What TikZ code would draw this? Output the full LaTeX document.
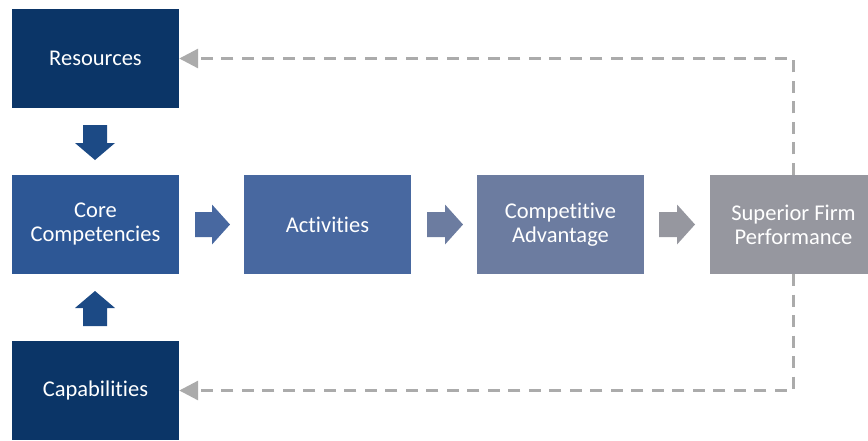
\documentclass[tikz,border=0pt]{standalone}
\usepackage{fontspec}
\setmainfont{Carlito}[Ligatures={NoCommon}]
\usetikzlibrary{arrows.meta}
\definecolor{navy}{HTML}{0B3567}
\definecolor{barrow}{HTML}{1C4A85}
\definecolor{corec}{HTML}{2D5795}
\definecolor{actc}{HTML}{4868A0}
\definecolor{compc}{HTML}{6C7CA0}
\definecolor{supc}{HTML}{96979F}
\definecolor{dashc}{HTML}{ABABAB}
\tikzset{
  box/.style={rectangle, minimum width=167pt, minimum height=99pt, inner sep=0pt,
    text=white, align=center, font=\fontsize{22.5}{24}\selectfont},
  feedback/.style={draw=dashc, line width=3pt, dash pattern=on 12pt off 8.5pt,
    line join=miter, -{Triangle[length=19pt,width=19pt]}}
}
\begin{document}
\begin{tikzpicture}[x=1pt,y=-1pt]
\useasboundingbox (0,0) rectangle (868,440);
\node[box, fill=navy]  (res) at (95.5,58.5) {Resources};
\node[box, fill=corec] (core) at (95.5,224.5) {Core\\Competencies};
\node[box, fill=actc]  (act) at (327.5,224.5) {Activities};
\node[box, fill=compc] (comp) at (560.5,224.5) {Competitive\\Advantage};
\node[box, fill=supc]  (sup) at (793.5,224.5) {Superior Firm\\Performance};
\node[box, fill=navy]  (cap) at (95.5,390.5) {Capabilities};
% block arrows
\fill[barrow] (83,125) -- (107,125) -- (107,143) -- (115,143) -- (95,160) -- (75,143) -- (83,143) -- cycle;
\fill[barrow] (83,326) -- (107,326) -- (107,308) -- (115,308) -- (95,291) -- (75,308) -- (83,308) -- cycle;
\fill[actc] (195,212) -- (212,212) -- (212,204.5) -- (230,224.5) -- (212,244.5) -- (212,237) -- (195,237) -- cycle;
\fill[compc] (427,212) -- (445,212) -- (445,204.5) -- (463,224.5) -- (445,244.5) -- (445,237) -- (427,237) -- cycle;
\fill[supc] (659,212) -- (677,212) -- (677,204.5) -- (695,224.5) -- (677,244.5) -- (677,237) -- (659,237) -- cycle;
% feedback loops
\draw[feedback] (sup.north) -- (sup.north |- res.east) -- (res.east);
\draw[feedback] (sup.south) -- (sup.south |- cap.east) -- (cap.east);
\end{tikzpicture}
\end{document}
